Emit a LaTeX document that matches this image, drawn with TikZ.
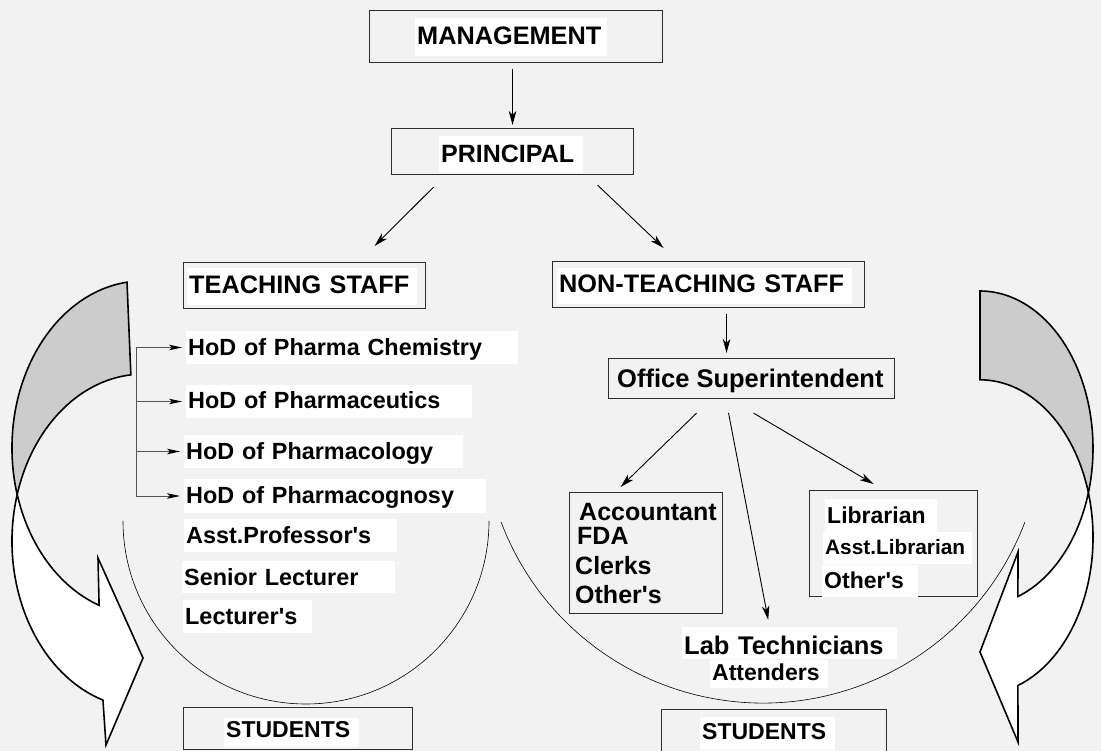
\documentclass[tikz,border=0pt]{standalone}
\usepackage{fontspec}
\setmainfont{Liberation Sans}
\usetikzlibrary{arrows.meta}
\definecolor{bgc}{RGB}{242,242,242}
\definecolor{shadec}{RGB}{204,204,204}
\definecolor{boxc}{RGB}{45,45,45}
\definecolor{trunkc}{RGB}{85,85,85}
\newcommand\myfs[1]{\fontsize{#1pt}{#1pt}\selectfont\bfseries}
\newcommand\ap{\textquotesingle}
\begin{document}
\begin{tikzpicture}[x=1pt,y=-1pt,
  boxnode/.style={draw=boxc, line width=1.1pt, inner sep=0pt, anchor=north west},
  lbl/.style={fill=white, inner xsep=2pt, inner ysep=0pt, anchor=base west, align=left},
  txt/.style={inner sep=0pt, anchor=base west},
  arr/.style={-{Stealth[length=14pt,width=7.5pt,inset=4pt]}, line width=0.9pt},
  hodarr/.style={-{Stealth[length=13pt,width=5.5pt,inset=3pt,color=black]}, line width=0.9pt},
  trunkline/.style={draw=trunkc, line width=1pt},
  arcline/.style={line width=0.6pt},
  bigarrow/.style={draw=black, line width=1.6pt, line join=miter}]
\fill[bgc] (0,0) rectangle (1101,751);
\useasboundingbox (0,0) rectangle (1101,751);

% ---------- curved arrows ----------
% left
\filldraw[bigarrow, fill=shadec] (127.0,282.2)
  arc[start angle=263, end angle=163.8, x radius=131, y radius=167]
  arc[start angle=196.2, end angle=264.7, x radius=131, y radius=167] -- cycle;
\filldraw[bigarrow, fill=white] (17.2,494.5)
  arc[start angle=196.2, end angle=107.8, x radius=131, y radius=167]
  -- (106,745) -- (143,658) -- (98,558) -- (99.1,605.3)
  arc[start angle=109.6, end angle=163.8, x radius=131, y radius=167] -- cycle;
% right
\filldraw[bigarrow, fill=shadec] (980,291)
  arc[start angle=270, end angle=376.4, x radius=113, y radius=157.3]
  arc[start angle=343.6, end angle=270, x radius=113, y radius=157.3] -- cycle;
\filldraw[bigarrow, fill=white] (1088.4,492.9)
  arc[start angle=-16.4, end angle=70.4, x radius=113, y radius=157.3]
  -- (1018,742) -- (980,652) -- (1018,552) -- (1017.9,596.5)
  arc[start angle=70.4, end angle=16.4, x radius=113, y radius=157.3] -- cycle;

% ---------- thin arcs ----------
\draw[arcline] (123,521) arc[start angle=180, end angle=0, radius=183];
\draw[arcline] (501.1,522) arc[start angle=159.3, end angle=20.7, radius=280];

% ---------- boxes ----------
\node[boxnode, minimum width=293pt, minimum height=52pt] (mgmt) at (369,10) {};
\node[boxnode, minimum width=242pt, minimum height=46pt] (prin) at (391,128) {};
\node[boxnode, minimum width=242pt, minimum height=46pt] (teach) at (183,262) {};
\node[boxnode, minimum width=312pt, minimum height=46pt] (nontea) at (552,261) {};
\node[boxnode, minimum width=286pt, minimum height=40pt] (off) at (608,358) {};
\node[boxnode, minimum width=153pt, minimum height=121pt] (acc) at (569,492) {};
\node[boxnode, minimum width=168pt, minimum height=106pt] (lib) at (809,490) {};
\node[boxnode, minimum width=229pt, minimum height=42pt] (stuL) at (183,707) {};
\node[boxnode, minimum width=225pt, minimum height=48pt] (stuR) at (661,709) {};

% ---------- labels ----------
\node[lbl, text width=188pt, text height=27pt, text depth=11pt, font=\myfs{25.3}] (mgmtT) at (415,45) {MANAGEMENT};
\node[lbl, text width=140pt, text height=27pt, text depth=10pt, font=\myfs{25}] (prinT) at (439,163) {PRINCIPAL};
\node[lbl, text width=226pt, text height=26pt, text depth=11pt, font=\myfs{25.3}] (teachT) at (187,294) {TEACHING STAFF};
\node[lbl, text width=291pt, text height=25pt, text depth=11pt, font=\myfs{25.3}] (nonteaT) at (557,293) {NON-TEACHING STAFF};
\node[txt, font=\myfs{25.5}] (offT) at (617,388) {Office Superintendent};

\node[lbl, text width=328pt, text height=25pt, text depth=8pt, font=\myfs{23.4}] (hod1) at (186,356) {HoD of Pharma Chemistry};
\node[lbl, text width=282pt, text height=23pt, text depth=10pt, font=\myfs{23.4}] (hod2) at (186,408) {HoD of Pharmaceutics};
\node[lbl, text width=275pt, text height=24pt, text depth=9pt, font=\myfs{23.4}] (hod3) at (184,459) {HoD of Pharmacology};
\node[lbl, text width=298pt, text height=24pt, text depth=10pt, font=\myfs{23.4}] (hod4) at (184,503) {HoD of Pharmacognosy};
\node[lbl, text width=209pt, text height=24pt, text depth=9pt, font=\myfs{23.4}] (asstp) at (184,543) {Asst.Professor\ap s};
\node[lbl, text width=209pt, text height=24pt, text depth=8pt, font=\myfs{23.4}] (senl) at (182,585) {Senior Lecturer};
\node[lbl, text width=125pt, text height=24pt, text depth=9pt, font=\myfs{23.4}] (lect) at (183,624) {Lecturer\ap s};

\node[txt, font=\myfs{25}] (accT) at (579,520) {Accountant};
\node[txt, font=\myfs{25}] (fda) at (577,544) {FDA};
\node[txt, font=\myfs{25}] (clerks) at (575,574) {Clerks};
\node[txt, font=\myfs{25}] (othA) at (575,603) {Other\ap s};

\node[lbl, text width=108pt, text height=24pt, text depth=9pt, font=\myfs{23}] (libT) at (825,523) {Librarian};
\node[lbl, text width=145pt, text height=22pt, text depth=10pt, font=\myfs{20.8}] (alib) at (823,554) {Asst.Librarian};
\node[lbl, text width=92pt, text height=23pt, text depth=9pt, font=\myfs{23}] (othL) at (822,588) {Other\ap s};

\node[lbl, text width=211pt, text height=27pt, text depth=5pt, font=\myfs{25.5}] (lab) at (682,654) {Lab Technicians};
\node[lbl, text width=114pt, text height=20pt, text depth=8pt, font=\myfs{23}] (att) at (710,680) {Attenders};

\node[lbl, text width=131pt, text height=19pt, text depth=10pt, font=\myfs{23}] (stuLT) at (224,737) {STUDENTS};
\node[lbl, text width=131pt, text height=22pt, text depth=11pt, font=\myfs{23}] (stuRT) at (700,739) {STUDENTS};

% ---------- connectors ----------
\draw[arr] ([shift={(-3.5,6)}]mgmt.south) -- ([shift={(0,-3)}]prin.north);
\draw[arr] ([shift={(-79,12)}]prin.south) -- ([shift={(70,-16)}]teach.north);
\draw[arr] ([shift={(85,10)}]prin.south) -- ([shift={(-45,-13)}]nontea.north);
\draw[arr] ([shift={(18,6)}]nontea.south) -- ([shift={(-25,-5)}]off.north);
\draw[arr] ([shift={(-55,14)}]off.south) -- ([shift={(-25.5,-5)}]acc.north);
\draw[arr] ([shift={(-23,14)}]off.south) -- ([shift={(-21.5,-7)}]lab.north);
\draw[arr] ([shift={(2,14)}]off.south) -- ([shift={(-20,-6)}]lib.north);

\coordinate (tk) at (136,0);
\draw[trunkline] (hod1.west -| tk) -- (hod4.west -| tk);
\foreach \h in {hod1,hod2,hod3,hod4}{
  \draw[trunkline, hodarr, shorten >=4pt] (\h.west -| tk) -- (\h.west);
}
\end{tikzpicture}
\end{document}
